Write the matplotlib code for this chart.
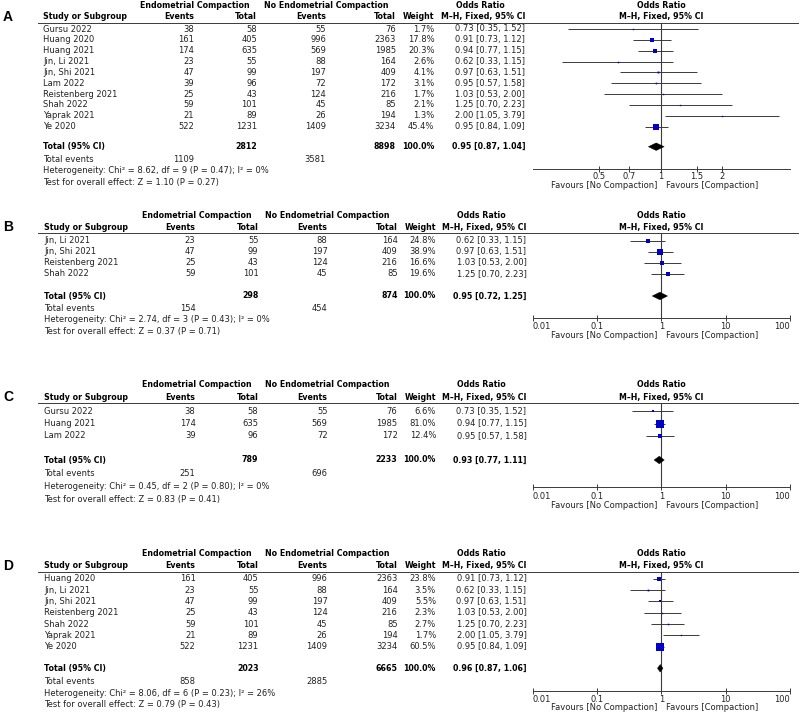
import matplotlib
matplotlib.use('Agg')
import matplotlib.pyplot as plt
import numpy as np
from matplotlib.patches import Polygon

plt.rcParams['font.family'] = ['DejaVu Sans']
FS = 6.0
FSB = 5.65

# ---------------- data ----------------
A_study = ["Gursu 2022", "Huang 2020", "Huang 2021", "Jin, Li 2021", "Jin, Shi 2021",
           "Lam 2022", "Reistenberg 2021", "Shah 2022", "Yaprak 2021", "Ye 2020"]
A_ev1 = [38, 161, 174, 23, 47, 39, 25, 59, 21, 522]
A_n1 = [58, 405, 635, 55, 99, 96, 43, 101, 89, 1231]
A_ev2 = [55, 996, 569, 88, 197, 72, 124, 45, 26, 1409]
A_n2 = [76, 2363, 1985, 164, 409, 172, 216, 85, 194, 3234]
A_weight = [1.7, 17.8, 20.3, 2.6, 4.1, 3.1, 1.7, 2.1, 1.3, 45.4]
A_or = [0.73, 0.91, 0.94, 0.62, 0.97, 0.95, 1.03, 1.25, 2.00, 0.95]
A_lo = [0.35, 0.73, 0.77, 0.33, 0.63, 0.57, 0.53, 0.70, 1.05, 0.84]
A_hi = [1.52, 1.12, 1.15, 1.15, 1.51, 1.58, 2.00, 2.23, 3.79, 1.09]
A_tot_n = [2812, 8898]
A_tot_ev = [1109, 3581]
A_tot_or = [0.95, 0.87, 1.04]
A_het = "Heterogeneity: Chi² = 8.62, df = 9 (P = 0.47); I² = 0%"
A_test = "Test for overall effect: Z = 1.10 (P = 0.27)"
A_ticks = [0.5, 0.7, 1, 1.5, 2]
A_ticklabels = ["0.5", "0.7", "1", "1.5", "2"]

B_study = ["Jin, Li 2021", "Jin, Shi 2021", "Reistenberg 2021", "Shah 2022"]
B_ev1 = [23, 47, 25, 59]
B_n1 = [55, 99, 43, 101]
B_ev2 = [88, 197, 124, 45]
B_n2 = [164, 409, 216, 85]
B_weight = [24.8, 38.9, 16.6, 19.6]
B_or = [0.62, 0.97, 1.03, 1.25]
B_lo = [0.33, 0.63, 0.53, 0.70]
B_hi = [1.15, 1.51, 2.00, 2.23]
B_tot_n = [298, 874]
B_tot_ev = [154, 454]
B_tot_or = [0.95, 0.72, 1.25]
B_het = "Heterogeneity: Chi² = 2.74, df = 3 (P = 0.43); I² = 0%"
B_test = "Test for overall effect: Z = 0.37 (P = 0.71)"

C_study = ["Gursu 2022", "Huang 2021", "Lam 2022"]
C_ev1 = [38, 174, 39]
C_n1 = [58, 635, 96]
C_ev2 = [55, 569, 72]
C_n2 = [76, 1985, 172]
C_weight = [6.6, 81.0, 12.4]
C_or = [0.73, 0.94, 0.95]
C_lo = [0.35, 0.77, 0.57]
C_hi = [1.52, 1.15, 1.58]
C_tot_n = [789, 2233]
C_tot_ev = [251, 696]
C_tot_or = [0.93, 0.77, 1.11]
C_het = "Heterogeneity: Chi² = 0.45, df = 2 (P = 0.80); I² = 0%"
C_test = "Test for overall effect: Z = 0.83 (P = 0.41)"

D_study = ["Huang 2020", "Jin, Li 2021", "Jin, Shi 2021", "Reistenberg 2021",
           "Shah 2022", "Yaprak 2021", "Ye 2020"]
D_ev1 = [161, 23, 47, 25, 59, 21, 522]
D_n1 = [405, 55, 99, 43, 101, 89, 1231]
D_ev2 = [996, 88, 197, 124, 45, 26, 1409]
D_n2 = [2363, 164, 409, 216, 85, 194, 3234]
D_weight = [23.8, 3.5, 5.5, 2.3, 2.7, 1.7, 60.5]
D_or = [0.91, 0.62, 0.97, 1.03, 1.25, 2.00, 0.95]
D_lo = [0.73, 0.33, 0.63, 0.53, 0.70, 1.05, 0.84]
D_hi = [1.12, 1.15, 1.51, 2.00, 2.23, 3.79, 1.09]
D_tot_n = [2023, 6665]
D_tot_ev = [858, 2885]
D_tot_or = [0.96, 0.87, 1.06]
D_het = "Heterogeneity: Chi² = 8.06, df = 6 (P = 0.23); I² = 26%"
D_test = "Test for overall effect: Z = 0.79 (P = 0.43)"

LOG_TICKS = [0.01, 0.1, 1, 10, 100]
LOG_TICKLABELS = ["0.01", "0.1", "1", "10", "100"]

# ---------------- layout (pixels) ----------------
W, H = 800, 715
fig = plt.figure(figsize=(W / 100, H / 100), dpi=100)
ax0 = fig.add_axes([0, 0, 1, 1])
ax0.set_xlim(0, W)
ax0.set_ylim(H, 0)
ax0.axis('off')

TXT = '#222222'
LINE = '#3a3a3a'
BLUE = '#0000c8'
FX0, FX1 = 532.7, 790.0

panels = [
    dict(label='A', study=A_study, ev1=A_ev1, n1=A_n1, ev2=A_ev2, n2=A_n2, w=A_weight,
         orr=A_or, lo=A_lo, hi=A_hi, tot_n=A_tot_n, tot_ev=A_tot_ev, tot_or=A_tot_or,
         het=A_het, test=A_test, ticks=A_ticks, ticklabels=A_ticklabels,
         xlim=(0.2358, 4.303), hdr1=5.7, hdr2=16.7, rule=22.7, row0=29.0, drow=10.85,
         total=146.7, events=159.3, hety=170.7, testy=182.3, axis=169.3, fav=185.0,
         dx=0.0, pad=-0.6),
    dict(label='B', study=B_study, ev1=B_ev1, n1=B_n1, ev2=B_ev2, n2=B_n2, w=B_weight,
         orr=B_or, lo=B_lo, hi=B_hi, tot_n=B_tot_n, tot_ev=B_tot_ev, tot_or=B_tot_or,
         het=B_het, test=B_test, ticks=LOG_TICKS, ticklabels=LOG_TICKLABELS,
         xlim=(0.01, 100), hdr1=215.7, hdr2=227.3, rule=233.3, row0=240.7, drow=11.1,
         total=296.0, events=308.7, hety=320.0, testy=331.7, axis=317.7, fav=336.0,
         dx=1.5, pad=1.2),
    dict(label='C', study=C_study, ev1=C_ev1, n1=C_n1, ev2=C_ev2, n2=C_n2, w=C_weight,
         orr=C_or, lo=C_lo, hi=C_hi, tot_n=C_tot_n, tot_ev=C_tot_ev, tot_or=C_tot_or,
         het=C_het, test=C_test, ticks=LOG_TICKS, ticklabels=LOG_TICKLABELS,
         xlim=(0.01, 100), hdr1=384.3, hdr2=397.3, rule=403.3, row0=411.3, drow=12.35,
         total=460.0, events=474.0, hety=486.7, testy=499.3, axis=487.3, fav=506.0,
         dx=1.5, pad=1.2),
    dict(label='D', study=D_study, ev1=D_ev1, n1=D_n1, ev2=D_ev2, n2=D_n2, w=D_weight,
         orr=D_or, lo=D_lo, hi=D_hi, tot_n=D_tot_n, tot_ev=D_tot_ev, tot_or=D_tot_or,
         het=D_het, test=D_test, ticks=LOG_TICKS, ticklabels=LOG_TICKLABELS,
         xlim=(0.01, 100), hdr1=554.0, hdr2=565.7, rule=571.7, row0=578.7, drow=11.33,
         total=668.3, events=681.0, hety=693.3, testy=704.3, axis=690.7, fav=707.7,
         dx=1.5, pad=1.0),
]


def t(x, y, s, ha='left', bold=False, size=None, color=TXT):
    if size is None:
        size = FSB if bold else FS
    ax0.text(x, y, s, ha=ha, va='center', fontsize=size,
             fontweight='bold' if bold else 'normal', color=color)


for p in panels:
    dx = p['dx']
    c_study = 43 + dx
    c_ev1 = 194 + dx
    c_n1 = 257 + dx
    c_ev2 = 326 + dx
    c_n2 = 396 + dx
    c_w = 434.5 + dx
    c_or = 525 + dx

    # panel letter
    ax0.text(3, p['hdr2'], p['label'], ha='left', va='center', fontsize=10,
             fontweight='bold', family=['Liberation Sans', 'DejaVu Sans'], color='black')

    # headers
    t(195 + dx, p['hdr1'], "Endometrial Compaction", ha='center', bold=True, color='black')
    t(326 + dx, p['hdr1'], "No Endometrial Compaction", ha='center', bold=True, color='black')
    t(480 + dx, p['hdr1'], "Odds Ratio", ha='center', bold=True, color='black')
    t(661, p['hdr1'], "Odds Ratio", ha='center', bold=True, color='black')
    t(c_study, p['hdr2'], "Study or Subgroup", bold=True, color='black')
    t(c_ev1, p['hdr2'], "Events", ha='right', bold=True, color='black')
    t(c_n1, p['hdr2'], "Total", ha='right', bold=True, color='black')
    t(c_ev2, p['hdr2'], "Events", ha='right', bold=True, color='black')
    t(c_n2, p['hdr2'], "Total", ha='right', bold=True, color='black')
    t(c_w, p['hdr2'], "Weight", ha='right', bold=True, color='black')
    t(c_or, p['hdr2'], "M–H, Fixed, 95% CI", ha='right', bold=True, color='black')
    t(661, p['hdr2'], "M–H, Fixed, 95% CI", ha='center', bold=True, color='black')

    ax0.plot([38, 798], [p['rule'], p['rule']], color=LINE, lw=0.7)

    n = len(p['study'])
    rows_y = [p['row0'] + i * p['drow'] for i in range(n)]
    for i in range(n):
        y = rows_y[i]
        t(c_study, y, p['study'][i])
        t(c_ev1, y, str(p['ev1'][i]), ha='right')
        t(c_n1, y, str(p['n1'][i]), ha='right')
        t(c_ev2, y, str(p['ev2'][i]), ha='right')
        t(c_n2, y, str(p['n2'][i]), ha='right')
        t(c_w, y, "%.1f%%" % p['w'][i], ha='right')
        t(c_or, y, "%.2f [%.2f, %.2f]" % (p['orr'][i], p['lo'][i], p['hi'][i]), ha='right')

    t(c_study, p['total'], "Total (95% CI)", bold=True, color='black')
    t(c_n1, p['total'], str(p['tot_n'][0]), ha='right', bold=True, color='black')
    t(c_n2, p['total'], str(p['tot_n'][1]), ha='right', bold=True, color='black')
    t(c_w, p['total'], "100.0%", ha='right', bold=True, color='black')
    t(c_or, p['total'], "%.2f [%.2f, %.2f]" % tuple(p['tot_or']), ha='right', bold=True, color='black')
    t(c_study, p['events'], "Total events")
    t(c_ev1, p['events'], str(p['tot_ev'][0]), ha='right')
    t(c_ev2, p['events'], str(p['tot_ev'][1]), ha='right')
    t(c_study, p['hety'], p['het'])
    t(c_study, p['testy'], p['test'])

    # forest axes (y in pixel units, x on log scale)
    ax = fig.add_axes([FX0 / W, 1 - p['axis'] / H, (FX1 - FX0) / W, (p['axis'] - p['rule']) / H])
    ax.set_facecolor('none')
    ax.set_xscale('log')
    ax.set_xlim(*p['xlim'])
    ax.set_ylim(p['axis'], p['rule'])
    for s in ['top', 'left', 'right']:
        ax.spines[s].set_visible(False)
    ax.spines['bottom'].set_color(LINE)
    ax.spines['bottom'].set_linewidth(0.7)
    ax.set_yticks([])
    ax.xaxis.set_minor_locator(matplotlib.ticker.NullLocator())
    ax.set_xticks(p['ticks'])
    ax.set_xticklabels(p['ticklabels'])
    ax.tick_params(axis='x', direction='inout', length=4.5, width=0.7, color=LINE,
                   labelsize=FS, labelcolor=TXT, pad=p['pad'])
    if p['label'] != 'A':
        lbls = ax.get_xticklabels()
        lbls[0].set_ha('left')
        lbls[-1].set_ha('right')
    ax.axvline(1, color=LINE, lw=0.8, zorder=1)

    for i in range(n):
        y = rows_y[i]
        ax.plot([p['lo'][i], p['hi'][i]], [y, y], color=LINE, lw=0.7, zorder=2, solid_capstyle='butt')
        side_px = max(1.4, 0.95 * np.sqrt(p['w'][i]))
        ax.plot([p['orr'][i]], [y], marker='s', ms=side_px * 0.72, color=BLUE,
                markeredgewidth=0, linestyle='none', zorder=3)

    est, lo, hi = p['tot_or']
    yt = p['total']
    hh = 3.8
    ax.add_patch(Polygon([[lo, yt], [est, yt - hh], [hi, yt], [est, yt + hh]],
                         closed=True, facecolor='black', edgecolor='black', lw=0.3, zorder=4,
                         clip_on=False))

    t(657.5, p['fav'], "Favours [No Compaction]", ha='right')
    t(665.5, p['fav'], "Favours [Compaction]", ha='left')

fig.savefig('out.png', dpi=100)
